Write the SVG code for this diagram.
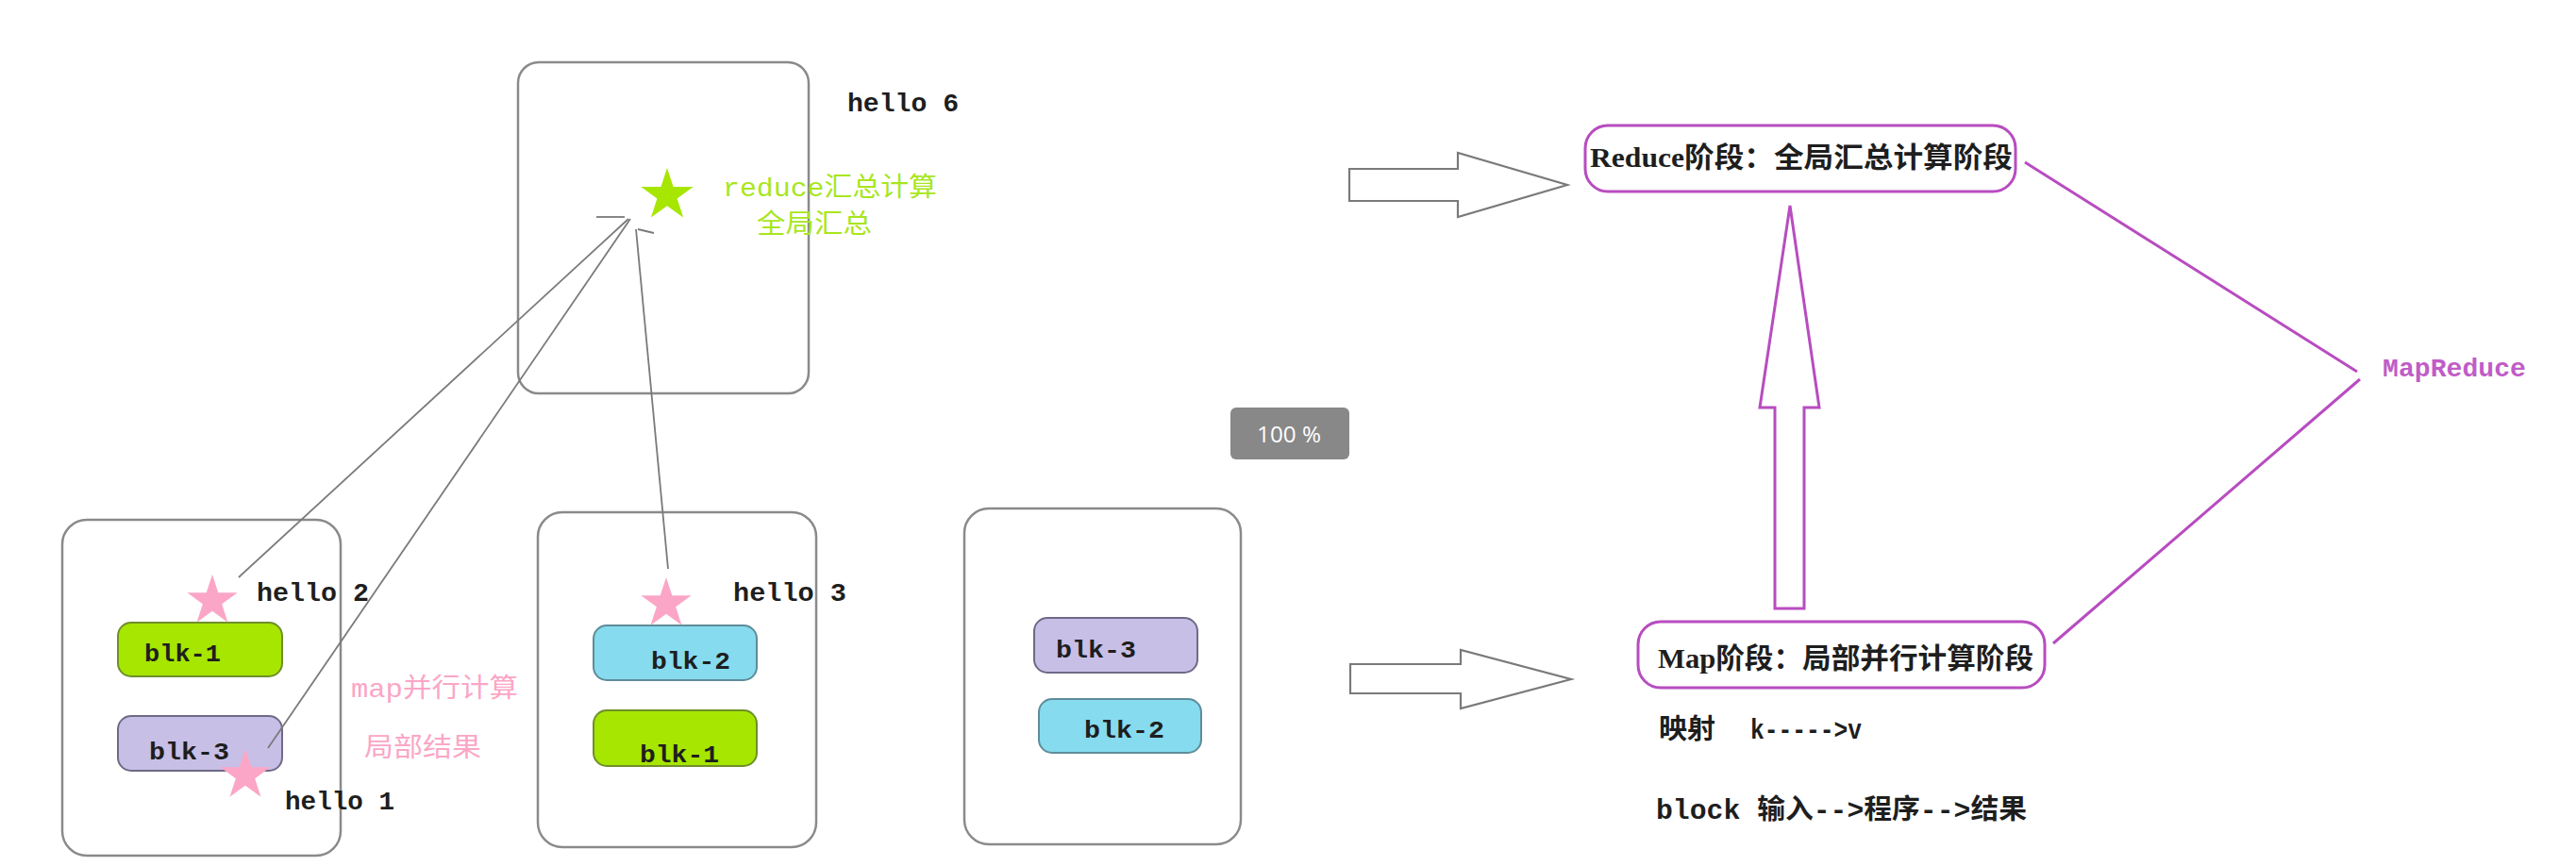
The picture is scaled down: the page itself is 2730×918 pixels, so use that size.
<svg xmlns="http://www.w3.org/2000/svg" xmlns:xlink="http://www.w3.org/1999/xlink" width="2730" height="918" viewBox="0 0 2730 918">
<style>
.node{fill:#ffffff;stroke:#8a8a8a;stroke-width:2.5}
.blk1{fill:#a6e600;stroke:#6f8f2a;stroke-width:2}
.blk2{fill:#86dbee;stroke:#5f8c99;stroke-width:2}
.blk3{fill:#c8bfe7;stroke:#6e6a86;stroke-width:2}
.lbl{font-family:"Liberation Mono","Noto Sans CJK SC",monospace;font-weight:bold;fill:#1e1e1e}
.cn{font-family:"Liberation Serif","Noto Sans CJK SC",serif;font-weight:bold;fill:#1e1e1e}
.green{font-family:"Liberation Mono","Noto Sans CJK SC",monospace;fill:#a8e61d}
.pink{font-family:"Liberation Mono","Noto Sans CJK SC",monospace;fill:#fba6c6}
.conn{stroke:#7a7a7a;stroke-width:1.8;fill:none}
.hollow{fill:#ffffff;stroke:#7a7a7a;stroke-width:2.2}
.purple{fill:none;stroke:#b84cc0;stroke-width:3}
</style>
<defs>
<path id="star" d="M0,-28 L6.29,-8.66 L26.63,-8.65 L10.18,3.31 L16.46,22.65 L0,10.7 L-16.46,22.65 L-10.18,3.31 L-26.63,-8.65 L-6.29,-8.66 Z"/>
</defs>
<rect width="2730" height="918" fill="#ffffff"/>

<g id="reduce-node">
<rect class="node" x="549" y="66" width="308" height="351" rx="22"/>
<text class="lbl" x="898" y="118" font-size="28" textLength="118" lengthAdjust="spacingAndGlyphs">hello 6</text>
<use href="#star" transform="translate(707,207) scale(1.04)" fill="#a6e600"/>
<text class="green" x="766" y="208" font-size="28" textLength="227" lengthAdjust="spacingAndGlyphs">reduce汇总计算</text>
<text class="green" x="802" y="247" font-size="28" textLength="122" lengthAdjust="spacingAndGlyphs">全局汇总</text>
</g>

<g id="node1">
<rect class="node" x="66" y="551" width="295" height="356" rx="26"/>
<rect class="blk1" x="125" y="660" width="174" height="57" rx="14"/>
<text class="lbl" x="153" y="701" font-size="26" textLength="81" lengthAdjust="spacingAndGlyphs">blk-1</text>
<rect class="blk3" x="125" y="759" width="174" height="58" rx="14"/>
<text class="lbl" x="158" y="805" font-size="26" textLength="85" lengthAdjust="spacingAndGlyphs">blk-3</text>
<text class="lbl" x="272" y="637" font-size="28" textLength="119" lengthAdjust="spacingAndGlyphs">hello 2</text>
<text class="lbl" x="302" y="858" font-size="28" textLength="116" lengthAdjust="spacingAndGlyphs">hello 1</text>
<text class="pink" x="372" y="739" font-size="28" textLength="177" lengthAdjust="spacingAndGlyphs">map并行计算</text>
<text class="pink" x="386" y="802" font-size="28" textLength="124" lengthAdjust="spacingAndGlyphs">局部结果</text>
</g>

<g id="node2">
<rect class="node" x="570" y="543" width="295" height="355" rx="26"/>
<rect class="blk2" x="629" y="663" width="173" height="58" rx="14"/>
<text class="lbl" x="690" y="709" font-size="26" textLength="84" lengthAdjust="spacingAndGlyphs">blk-2</text>
<rect class="blk1" x="629" y="753" width="173" height="59" rx="14"/>
<text class="lbl" x="678" y="808" font-size="26" textLength="84" lengthAdjust="spacingAndGlyphs">blk-1</text>
<text class="lbl" x="777" y="637" font-size="28" textLength="120" lengthAdjust="spacingAndGlyphs">hello 3</text>
</g>

<g id="node3">
<rect class="node" x="1022" y="539" width="293" height="356" rx="26"/>
<rect class="blk3" x="1096" y="655" width="173" height="58" rx="14"/>
<text class="lbl" x="1119" y="697" font-size="26" textLength="85" lengthAdjust="spacingAndGlyphs">blk-3</text>
<rect class="blk2" x="1101" y="741" width="172" height="57" rx="14"/>
<text class="lbl" x="1149" y="782" font-size="26" textLength="85" lengthAdjust="spacingAndGlyphs">blk-2</text>
</g>

<g id="connectors">
<line class="conn" x1="666" y1="232" x2="253" y2="612"/>
<line class="conn" x1="668" y1="232" x2="284" y2="793"/>
<line class="conn" x1="674" y1="243" x2="708" y2="603"/>
<line class="conn" x1="632" y1="230" x2="662" y2="230"/>
<line class="conn" x1="676" y1="243" x2="693" y2="247"/>
<path class="hollow" d="M1430,179 L1545,179 L1545,162 L1661,196 L1545,230 L1545,213 L1430,213 Z"/>
<path class="hollow" d="M1431,704 L1548,704 L1548,689 L1665,720 L1548,751 L1548,735 L1431,735 Z"/>
<path class="purple" d="M1881,645 L1881,432 L1865,432 L1897,218 L1928,432 L1912,432 L1912,645 Z"/>
<line class="purple" x1="2146" y1="172" x2="2498" y2="394"/>
<line class="purple" x1="2501" y1="402" x2="2176" y2="682"/>
</g>

<g id="stars">
<use href="#star" x="225" y="637" fill="#fba6c6"/>
<use href="#star" x="260" y="822" fill="#fba6c6"/>
<use href="#star" x="706" y="640" fill="#fba6c6"/>
</g>

<g id="zoom-badge">
<rect x="1304" y="432" width="126" height="55" rx="6" fill="#888888"/>
<text x="1332" y="469" font-family="'Open Sans','Liberation Sans',sans-serif" font-size="24" fill="#ffffff" textLength="68" lengthAdjust="spacingAndGlyphs">100 %</text>
</g>

<g id="reduce-stage">
<rect class="purple" x="1680" y="133" width="456" height="70" rx="24"/>
<text class="cn" x="1685" y="177" font-size="30" textLength="448" lengthAdjust="spacingAndGlyphs">Reduce阶段：全局汇总计算阶段</text>
</g>

<g id="map-stage">
<rect class="purple" x="1736" y="659" width="431" height="70" rx="24"/>
<text class="cn" x="1757" y="708" font-size="30" textLength="398" lengthAdjust="spacingAndGlyphs">Map阶段：局部并行计算阶段</text>
<text class="cn" x="1758" y="783" font-size="29" textLength="60" lengthAdjust="spacingAndGlyphs">映射</text>
<text class="lbl" x="1855" y="783" font-size="30" textLength="118" lengthAdjust="spacingAndGlyphs">k-----&gt;v</text>
<text class="lbl" x="1755" y="868" font-size="29" textLength="393" lengthAdjust="spacingAndGlyphs">block 输入--&gt;程序--&gt;结果</text>
</g>

<g id="mapreduce-label">
<text x="2525" y="399" font-family="'Liberation Mono',monospace" font-size="27" font-weight="bold" fill="#c05cc8" textLength="152" lengthAdjust="spacingAndGlyphs">MapReduce</text>
</g>
</svg>
